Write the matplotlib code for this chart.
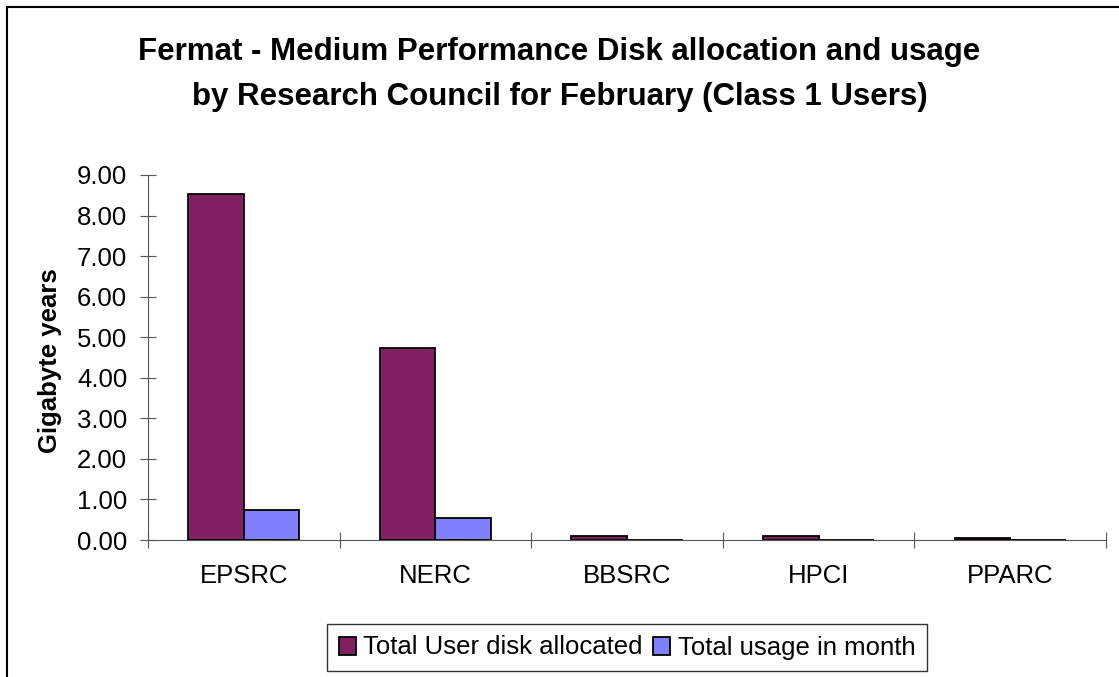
import matplotlib.pyplot as plt
from matplotlib.lines import Line2D
import numpy as np

plt.rcParams['font.family'] = ['Liberation Sans', 'DejaVu Sans']

councils = ["EPSRC", "NERC", "BBSRC", "HPCI", "PPARC"]
allocated = [8.54, 4.74, 0.11, 0.11, 0.06]
usage = [0.74, 0.54, 0.0, 0.0, 0.0]
yticks = [0, 1, 2, 3, 4, 5, 6, 7, 8, 9]

W, H = 1119, 677
fig = plt.figure(figsize=(W / 100, H / 100), dpi=100)
ax = fig.add_axes([148 / W, 1 - 540 / H, (1106 - 148) / W, (540 - 175) / H])

x = np.arange(len(councils))
w = 0.29
ax.bar(x - w / 2, allocated, w, color="#802060", edgecolor="black", linewidth=1.3,
       label="Total User disk allocated")
ax.bar(x + w / 2, usage, w, color="#8080FF", edgecolor="black", linewidth=1.3,
       label="Total usage in month")

ax.set_xlim(-0.5, len(councils) - 0.5)
ax.set_ylim(0, 9)
ax.set_yticks(yticks)
ax.set_yticklabels([f"{v:.2f}" for v in yticks])
ax.set_xticks(np.arange(len(councils) + 1) - 0.5)
ax.set_xticklabels([])
ax.set_xticks(x, minor=True)
ax.set_xticklabels(councils, minor=True)
ax.tick_params(axis="x", which="major", direction="inout", length=12, color="#555555")
ax.tick_params(axis="x", which="minor", length=0, pad=17, labelsize=18.5)
ax.tick_params(axis="y", direction="inout", length=12, color="#555555",
               labelsize=18.5, pad=9)

for s in ["top", "right"]:
    ax.spines[s].set_visible(False)
for s in ["left", "bottom"]:
    ax.spines[s].set_color("#555555")

fig.text(50 / W, 1 - 361 / H, "Gigabyte years", rotation=90, ha="center",
         va="center", fontsize=18.5, fontweight="bold")

fig.text(0.5, 1 - 60 / H, "Fermat - Medium Performance Disk allocation and usage",
         ha="center", va="baseline", fontsize=22.5, fontweight="bold")
fig.text(0.5, 1 - 105 / H, "by Research Council for February (Class 1 Users)",
         ha="center", va="baseline", fontsize=22.5, fontweight="bold")

leg = fig.legend(loc="center", bbox_to_anchor=(627 / W, 1 - 647.5 / H), ncol=2,
                 frameon=True, fancybox=False, fontsize=18.5, handlelength=0.66,
                 handleheight=0.7, handletextpad=0.3, columnspacing=0.4,
                 borderpad=0.45, borderaxespad=0)
leg.get_frame().set_edgecolor("black")
leg.get_frame().set_linewidth(1.0)

# page frame (top and left edges visible in the original)
fig.add_artist(Line2D([7 / W, 1], [1 - 7 / H, 1 - 7 / H], color="black", linewidth=1.5))
fig.add_artist(Line2D([7 / W, 7 / W], [0, 1 - 7 / H], color="black", linewidth=1.5))

fig.savefig("out.png", dpi=100)
